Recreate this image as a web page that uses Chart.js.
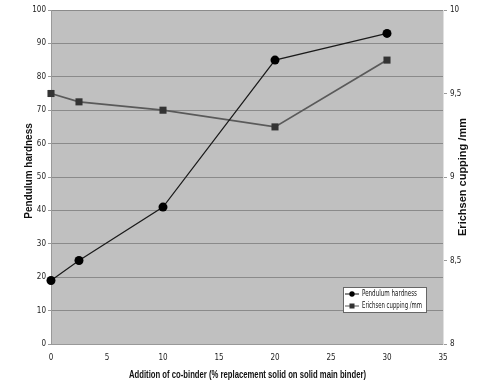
<!DOCTYPE html>
<html>
<head>
<meta charset="utf-8">
<script src="https://cdn.jsdelivr.net/npm/chart.js@4/dist/chart.umd.min.js"></script>
<style>
  html, body { margin: 0; padding: 0; background: #fff; }
  #wrap { width: 487px; height: 390px; position: relative; }
</style>
</head>
<body>
<div id="wrap"><canvas id="chart1"></canvas></div>
<script>
// co-binder addition (%)
var xVals = [0, 2.5, 10, 20, 30];
var pendulum = [19, 25, 41, 85, 93];
var erichsen = [9.5, 9.45, 9.4, 9.3, 9.7];
var rightTicks = [8, 8.5, 9, 9.5, 10];

var FONT = '"Liberation Sans Narrow", "DejaVu Sans Condensed", "Liberation Sans", sans-serif';
var BOLD = 'bold 10px "Liberation Sans", Arial, sans-serif';

function pts(ys) {
  return xVals.map((x, i) => ({x: x, y: ys[i]}));
}

// plot area background, titles and legend box
const extras = {
  id: 'extras',
  beforeDraw: chart => {
    const c = chart.ctx, a = chart.chartArea;
    c.save();
    c.fillStyle = '#c0c0c0';
    c.fillRect(a.left, a.top, a.right - a.left, a.bottom - a.top);
    c.restore();
  },
  afterDraw: chart => {
    const c = chart.ctx, a = chart.chartArea;
    c.save();
    c.fillStyle = '#111';
    c.font = 'bold 11px "Liberation Sans", Arial, sans-serif';
    c.textAlign = 'center';
    c.textBaseline = 'middle';
    c.fillText('Addition of co-binder (% replacement solid on solid main binder)', 247.5, 375, 237);
    c.font = BOLD;
    c.translate(29, 171);
    c.rotate(-Math.PI / 2);
    c.fillText('Pendulum hardness', 0, 0);
    c.restore();
    c.save();
    c.fillStyle = '#111';
    c.font = 'bold 11px "Liberation Sans", Arial, sans-serif';
    c.textAlign = 'center';
    c.textBaseline = 'middle';
    c.translate(463, 177);
    c.rotate(-Math.PI / 2);
    c.fillText('Erichsen cupping /mm', 0, 0);
    c.restore();

    // legend
    c.save();
    c.fillStyle = '#fff';
    c.fillRect(343, 287, 84, 26);
    c.strokeStyle = '#666';
    c.lineWidth = 1;
    c.strokeRect(343.5, 287.5, 83, 25);
    c.font = '9.5px ' + FONT;
    c.textBaseline = 'middle';
    c.textAlign = 'left';
    // row 1
    c.strokeStyle = '#111';
    c.beginPath(); c.moveTo(345, 294); c.lineTo(359, 294); c.stroke();
    c.fillStyle = '#000';
    c.beginPath(); c.arc(352, 294, 2.7, 0, Math.PI * 2); c.fill();
    c.fillStyle = '#111';
    c.fillText('Pendulum hardness', 362, 294, 55);
    // row 2
    c.strokeStyle = '#555';
    c.beginPath(); c.moveTo(345, 306); c.lineTo(359, 306); c.stroke();
    c.fillStyle = '#333';
    c.fillRect(349.5, 303.5, 5, 5);
    c.fillStyle = '#111';
    c.fillText('Erichsen cupping /mm', 362, 306, 60);
    c.restore();
  }
};

const config1 = {
  type: 'scatter',
  data: {
    datasets: [
      {
        label: 'Pendulum hardness',
        data: pts(pendulum),
        yAxisID: 'y',
        showLine: true,
        clip: false,
        borderColor: '#1a1a1a',
        borderWidth: 1.2,
        backgroundColor: '#000',
        pointStyle: 'circle',
        pointRadius: 4.5,
        pointBorderWidth: 0,
      },
      {
        label: 'Erichsen cupping /mm',
        data: pts(erichsen),
        yAxisID: 'y2',
        showLine: true,
        clip: false,
        borderColor: '#5a5a5a',
        borderWidth: 1.8,
        backgroundColor: '#333',
        pointStyle: 'rect',
        pointRadius: 5,
        pointBorderWidth: 0,
      }
    ]
  },
  options: {
    responsive: false,
    animation: false,
    layout: { padding: { top: 10, left: 0, right: 0, bottom: 0 } },
    plugins: {
      legend: { display: false },
      tooltip: { enabled: false }
    },
    scales: {
      x: {
        type: 'linear',
        min: 0, max: 35,
        ticks: { stepSize: 5, color: '#222', font: { family: FONT, size: 8 }, padding: 6 },
        grid: { display: false, drawOnChartArea: false, drawTicks: true, tickLength: 3, color: '#999' },
        border: { color: '#999' },
        afterFit: axis => { axis.height = 46; }
      },
      y: {
        position: 'left',
        min: 0, max: 100,
        ticks: { stepSize: 10, color: '#222', font: { family: FONT, size: 8 }, padding: 2 },
        grid: { color: '#8a8a8a', lineWidth: 1, tickLength: 3, tickColor: '#999' },
        border: { color: '#999' },
        afterFit: axis => { axis.width = 51; }
      },
      y2: {
        position: 'right',
        min: 8, max: 10,
        afterBuildTicks: axis => { axis.ticks = rightTicks.map(v => ({value: v})); },
        ticks: {
          color: '#222', font: { family: FONT, size: 8 }, padding: 3,
          callback: v => v.toString().replace('.', ',')
        },
        grid: { drawOnChartArea: false, tickLength: 4, color: '#999' },
        border: { color: '#e0e0e0' },
        afterFit: axis => { axis.width = 44; }
      }
    }
  },
  plugins: [extras]
};

const cv = document.getElementById('chart1');
cv.width = 487; cv.height = 390;
const chart1 = new Chart(cv, config1);
</script>
</body>
</html>
